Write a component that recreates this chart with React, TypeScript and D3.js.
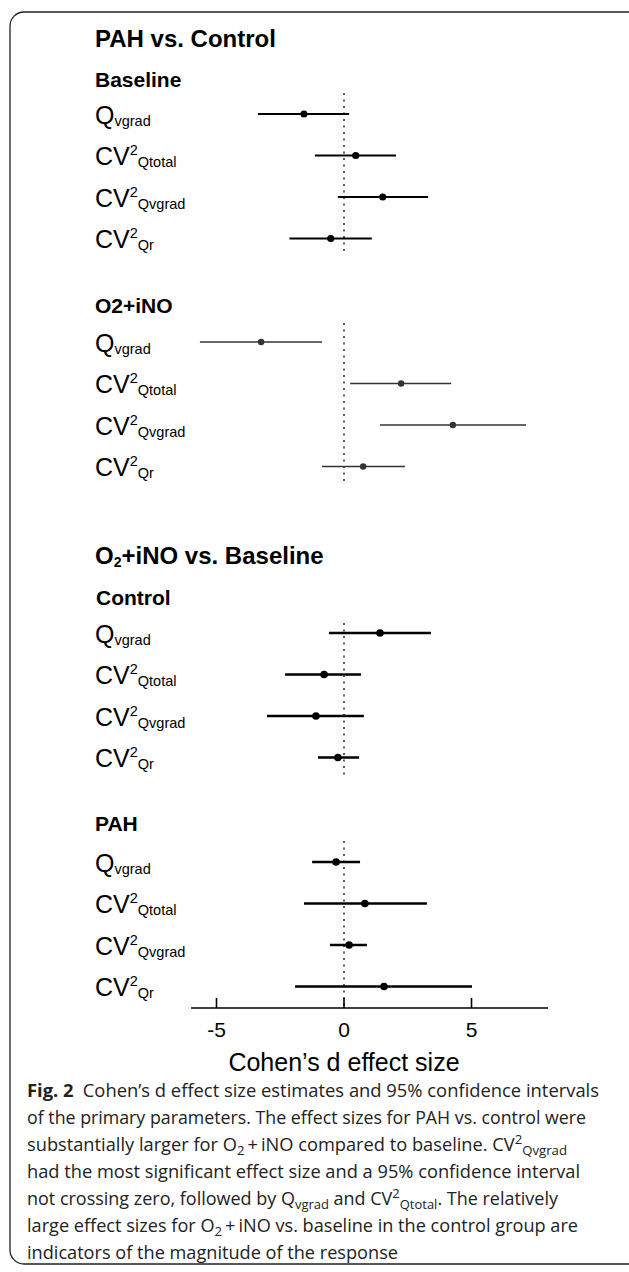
import React from "react";
import * as d3 from "d3";

// ---------- data ----------
const paramMain = ["Q", "CV", "CV", "CV"];
const paramSup = ["", "2", "2", "2"];
const paramSub = ["vgrad", "Qtotal", "Qvgrad", "Qr"];

const baselineEst = [-1.57, 0.46, 1.52, -0.52];
const baselineLo = [-3.37, -1.14, -0.24, -2.14];
const baselineHi = [0.2, 2.04, 3.3, 1.09];

const o2Est = [-3.25, 2.24, 4.27, 0.75];
const o2Lo = [-5.65, 0.24, 1.41, -0.86];
const o2Hi = [-0.86, 4.2, 7.14, 2.39];

const controlEst = [1.41, -0.78, -1.1, -0.24];
const controlLo = [-0.59, -2.31, -3.02, -1.02];
const controlHi = [3.41, 0.67, 0.78, 0.59];

const pahEst = [-0.31, 0.82, 0.2, 1.57];
const pahLo = [-1.25, -1.57, -0.55, -1.92];
const pahHi = [0.63, 3.25, 0.9, 5.02];

const xTicks = [-5, 0, 5];
const xDomain = [-6, 8];

// ---------- layout ----------
const W = 629;
const H = 1272;
const LABEL_X = 95;
const ROW_GAP = 41.5;
const FONT = "'Liberation Sans', Arial, Helvetica, sans-serif";
const CAP_FONT = "'Open Sans', 'Noto Sans', sans-serif";

const x = d3.scaleLinear().domain(xDomain).range([191, 548]);

type Group = {
  est: number[];
  lo: number[];
  hi: number[];
  firstY: number;
  dotTop: number;
  dotBottom: number;
  color: string;
  sw: number;
  r: number;
};

const groups: Group[] = [
  { est: baselineEst, lo: baselineLo, hi: baselineHi, firstY: 114, dotTop: 93, dotBottom: 255, color: "#000", sw: 1.8, r: 3.6 },
  { est: o2Est, lo: o2Lo, hi: o2Hi, firstY: 342, dotTop: 323, dotBottom: 483, color: "#333", sw: 1.6, r: 3.2 },
  { est: controlEst, lo: controlLo, hi: controlHi, firstY: 633, dotTop: 623, dotBottom: 777, color: "#000", sw: 2.4, r: 3.8 },
  { est: pahEst, lo: pahLo, hi: pahHi, firstY: 862, dotTop: 841, dotBottom: 1008, color: "#000", sw: 2.4, r: 3.8 },
];

function Label({ i, y }: { i: number; y: number }) {
  return (
    <text x={LABEL_X} y={y + 9.5} fontFamily={FONT} fontSize={25} fill="#000">
      {paramMain[i]}
      {paramSup[i] ? (
        <tspan fontSize={14.5} dy={-10}>
          {paramSup[i]}
        </tspan>
      ) : null}
      <tspan fontSize={14.5} dy={paramSup[i] ? 12 : 2}>
        {paramSub[i]}
      </tspan>
    </text>
  );
}

function GroupMarks({ g }: { g: Group }) {
  const x0 = x(0);
  return (
    <g>
      <line
        x1={x0}
        x2={x0}
        y1={g.dotTop}
        y2={g.dotBottom}
        stroke="#333"
        strokeWidth={1.6}
        strokeDasharray="2,4.5"
      />
      {g.est.map((e, i) => {
        const y = g.firstY + i * ROW_GAP;
        return (
          <g key={i}>
            <Label i={i} y={y} />
            <line x1={x(g.lo[i])} x2={x(g.hi[i])} y1={y} y2={y} stroke={g.color} strokeWidth={g.sw} />
            <circle cx={x(e)} cy={y} r={g.r} fill={g.color} />
          </g>
        );
      })}
    </g>
  );
}

const captionLines: { y: number; len: number; content: React.ReactNode }[] = [
  {
    y: 1097,
    len: 572,
    content: (
      <>
        <tspan fontWeight="bold">Fig. 2</tspan>
        {"\u2002Cohen\u2019s d effect size estimates and 95% confidence intervals"}
      </>
    ),
  },
  { y: 1124, len: 559, content: <>of the primary parameters. The effect sizes for PAH vs. control were</> },
  {
    y: 1151,
    len: 540,
    content: (
      <>
        {"substantially larger for O"}
        <tspan fontSize={13} dy={4}>2</tspan>
        <tspan dy={-4}>{"\u2009+\u2009iNO compared to baseline. CV"}</tspan>
        <tspan fontSize={13} dy={-7}>2</tspan>
        <tspan fontSize={13} dy={11}>Qvgrad</tspan>
      </>
    ),
  },
  { y: 1178, len: 553, content: <>had the most significant effect size and a 95% confidence interval</> },
  {
    y: 1205,
    len: 531,
    content: (
      <>
        {"not crossing zero, followed by Q"}
        <tspan fontSize={13} dy={4}>vgrad</tspan>
        <tspan dy={-4}>{" and CV"}</tspan>
        <tspan fontSize={13} dy={-7}>2</tspan>
        <tspan fontSize={13} dy={11}>Qtotal</tspan>
        <tspan dy={-4}>. The relatively</tspan>
      </>
    ),
  },
  {
    y: 1232,
    len: 551,
    content: (
      <>
        {"large effect sizes for O"}
        <tspan fontSize={13} dy={4}>2</tspan>
        <tspan dy={-4}>{"\u2009+\u2009iNO vs. baseline in the control group are"}</tspan>
      </>
    ),
  },
  { y: 1259, len: 371, content: <>indicators of the magnitude of the response</> },
];

export default function App() {
  const axisY = 1008;
  return (
    <svg
      width={W}
      height={H}
      viewBox={`0 0 ${W} ${H}`}
      style={{ position: "absolute", left: 0, top: 0, background: "#fff" }}
    >
      <rect x={10} y={12} width={W + 20} height={1252} rx={14} ry={14} fill="none" stroke="#222" strokeWidth={1.3} />

      {/* headings */}
      <text x={LABEL_X} y={47} fontFamily={FONT} fontWeight="bold" fontSize={24}>PAH vs. Control</text>
      <text x={LABEL_X} y={87} fontFamily={FONT} fontWeight="bold" fontSize={21}>Baseline</text>
      <text x={LABEL_X} y={313} fontFamily={FONT} fontWeight="bold" fontSize={21}>O2+iNO</text>
      <text x={LABEL_X} y={564} fontFamily={FONT} fontWeight="bold" fontSize={24}>
        O<tspan fontSize={14} dy={3}>2</tspan>
        <tspan dy={-3}>+iNO vs. Baseline</tspan>
      </text>
      <text x={LABEL_X + 1} y={605} fontFamily={FONT} fontWeight="bold" fontSize={21}>Control</text>
      <text x={LABEL_X} y={831} fontFamily={FONT} fontWeight="bold" fontSize={21}>PAH</text>

      {groups.map((g, i) => (
        <GroupMarks key={i} g={g} />
      ))}

      {/* axis */}
      <line x1={x.range()[0]} x2={x.range()[1]} y1={axisY} y2={axisY} stroke="#000" strokeWidth={1.6} />
      {xTicks.map((t) => (
        <g key={t}>
          <line x1={x(t)} x2={x(t)} y1={axisY - 10} y2={axisY} stroke="#000" strokeWidth={1.6} />
          <text x={x(t)} y={1037} textAnchor="middle" fontFamily={FONT} fontSize={21}>
            {t < 0 ? `-${Math.abs(t)}` : t}
          </text>
        </g>
      ))}
      <text x={x(0)} y={1071} textAnchor="middle" fontFamily={FONT} fontSize={25}>
        Cohen’s d effect size
      </text>

      {/* caption */}
      {captionLines.map((l, i) => (
        <text
          key={i}
          x={27}
          y={l.y}
          fontFamily={CAP_FONT}
          fontSize={18}
          fill="#222"
          textLength={l.len}
          lengthAdjust="spacingAndGlyphs"
        >
          {l.content}
        </text>
      ))}
    </svg>
  );
}
